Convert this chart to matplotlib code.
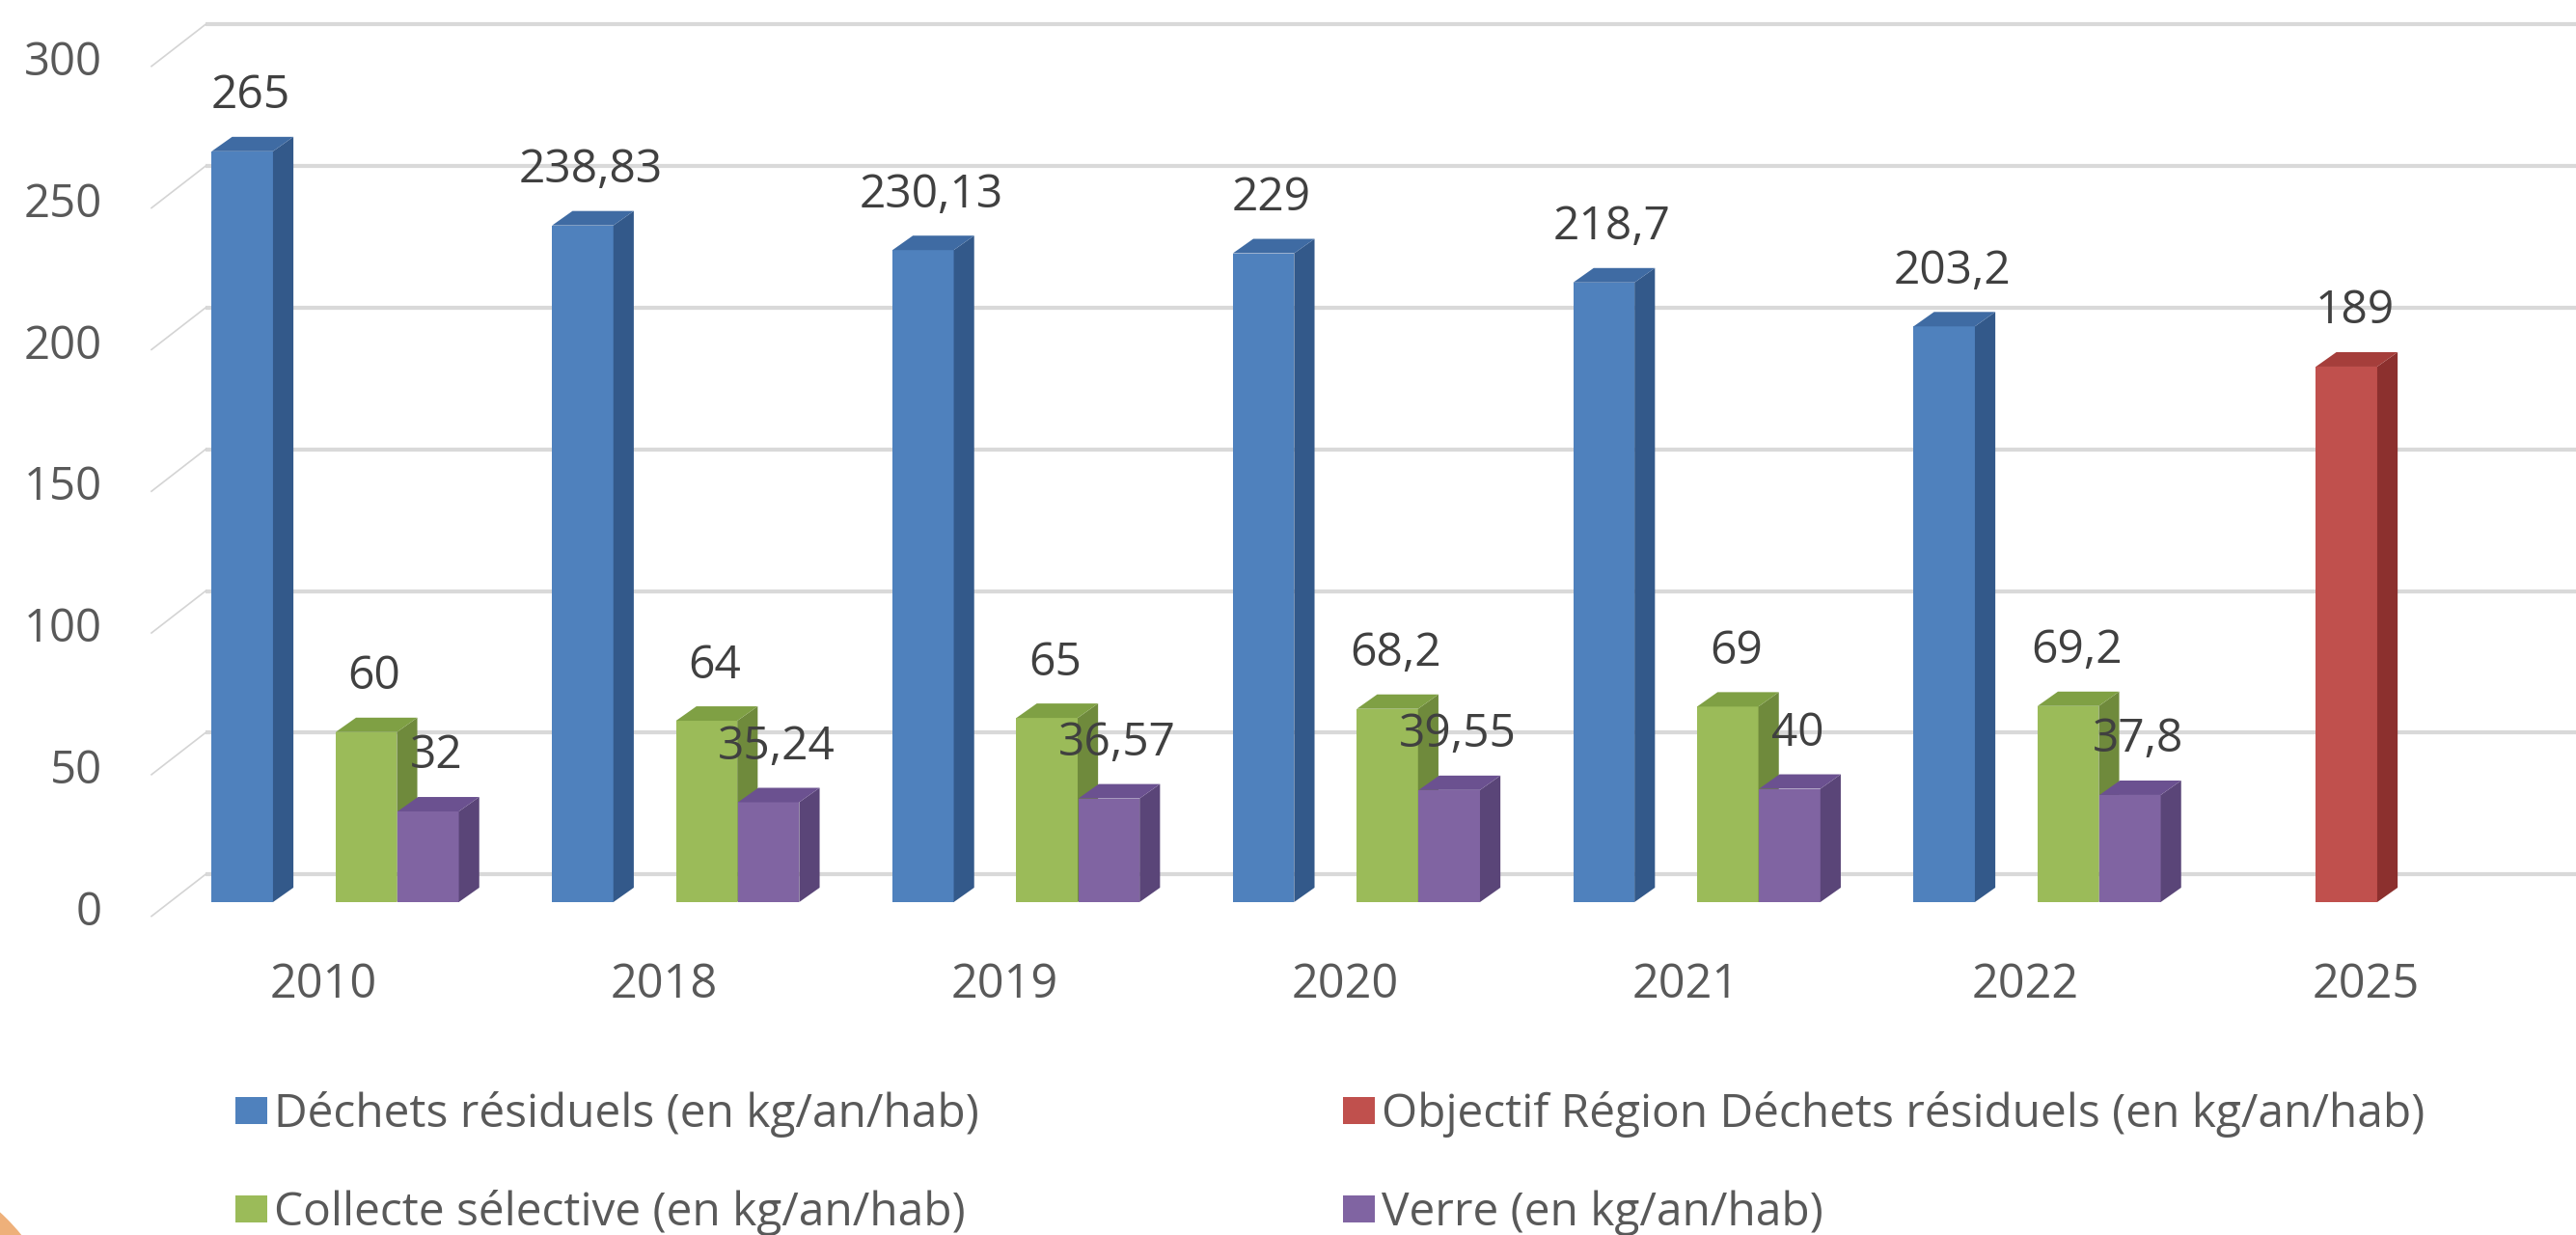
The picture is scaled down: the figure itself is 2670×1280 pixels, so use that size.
import numpy as np
import matplotlib
matplotlib.use("Agg")
import matplotlib.pyplot as plt
from matplotlib.patches import Polygon, Rectangle, Ellipse

plt.rcParams['font.family'] = ['Open Sans', 'DejaVu Sans']

years = ['2010', '2018', '2019', '2020', '2021', '2022', '2025']
dechets = [265, 238.83, 230.13, 229, 218.7, 203.2, np.nan]
objectif = [np.nan, np.nan, np.nan, np.nan, np.nan, np.nan, 189]
collecte = [60, 64, 65, 68.2, 69, 69.2, np.nan]
verre = [32, 35.24, 36.57, 39.55, 40, 37.8, np.nan]

series = [
    ("Déchets résiduels (en kg/an/hab)", dechets, ('#4f81bd', '#33598a', '#3f6ba3')),
    ("Objectif Région Déchets résiduels (en kg/an/hab)", objectif, ('#c0504d', '#8c302e', '#a53e3b')),
    ("Collecte sélective (en kg/an/hab)", collecte, ('#9bbb59', '#6f8a3c', '#7fa044')),
    ("Verre (en kg/an/hab)", verre, ('#8064a2', '#5a4578', '#6b5190')),
]
yticks = [0, 50, 100, 150, 200, 250, 300]

W, H = 2670, 1280
fig = plt.figure(figsize=(W / 100, H / 100), dpi=100)
ax = fig.add_axes([0, 0, 1, 1])
ax.set_xlim(-0.951, 6.617)
ax.set_ylim(-117.5, 318.4)
ax.axis('off')

# fake 3d depth, in data units
dx, dy = 0.06, 5.1        # bar depth
back = 9.8                # back wall shift
front = -5.0              # front edge of side wall
wall_back_x, wall_front_x = -0.347, -0.506
slot, bw, shift = 0.182, 0.18, 0.034

# back wall gridlines + side wall lines
for v in yticks:
    ax.plot([wall_back_x, 6.617], [v + back, v + back], color='#d9d9d9', lw=3, zorder=1,
            solid_capstyle='butt')
    ax.plot([wall_front_x, wall_back_x], [v + front, v + back], color='#d4d4d4', lw=1.2, zorder=1)
    ax.text(-0.651, v - 3.8, str(v), ha='right', va='center', fontsize=34, color='#595959')


def fmt(v):
    if float(v).is_integer():
        return str(int(v))
    return ('%g' % v).replace('.', ',')


x = np.arange(len(years))
z = 3
for i in range(len(years)):
    for k, (name, vals, (cf, cs, ct)) in enumerate(series):
        h = vals[i]
        if np.isnan(h):
            continue
        xc = x[i] + shift + (k - 1.5) * slot
        l, r = xc - bw / 2, xc + bw / 2
        ax.bar(xc, h, width=bw, color=cf, zorder=z, linewidth=0)
        ax.add_patch(Polygon([(r, 0), (r + dx, dy), (r + dx, h + dy), (r, h)],
                             closed=True, facecolor=cs, edgecolor='none', zorder=z))
        ax.add_patch(Polygon([(l, h), (l + dx, h + dy), (r + dx, h + dy), (r, h)],
                             closed=True, facecolor=ct, edgecolor='none', zorder=z))
        z += 1

# data labels on top of everything
for i in range(len(years)):
    for k, (name, vals, colors) in enumerate(series):
        h = vals[i]
        if np.isnan(h):
            continue
        xc = x[i] + shift + (k - 1.5) * slot
        ax.text(xc + dx * 0.4, h + 19.5, fmt(h), ha='center', va='center',
                fontsize=34.5, color='#404040', zorder=50)

for i, yr in enumerate(years):
    ax.text(x[i], -29.5, yr, ha='center', va='center', fontsize=35, color='#595959')

# legend, laid out like the excel one (2 columns)
legend_pos = [(-0.259, -73.6), (2.995, -73.6), (-0.259, -108.3), (2.995, -108.3)]
for (lx, ly), k in zip(legend_pos, [0, 1, 2, 3]):
    name, vals, (cf, cs, ct) = series[k]
    ax.add_patch(Rectangle((lx, ly - 4.9), 0.094, 9.8, facecolor=cf, edgecolor='none'))
    ax.text(lx + 0.112, ly - 5.8, name, ha='left', va='baseline', fontsize=34.5, color='#595959')

# orange shape in the corner
fig.add_artist(Ellipse((-150 / W, (H - 1420) / H), 444 / W, 444 / H,
                       transform=fig.transFigure, facecolor='#eeb07a', edgecolor='none'))

fig.savefig('out.png', dpi=100)
